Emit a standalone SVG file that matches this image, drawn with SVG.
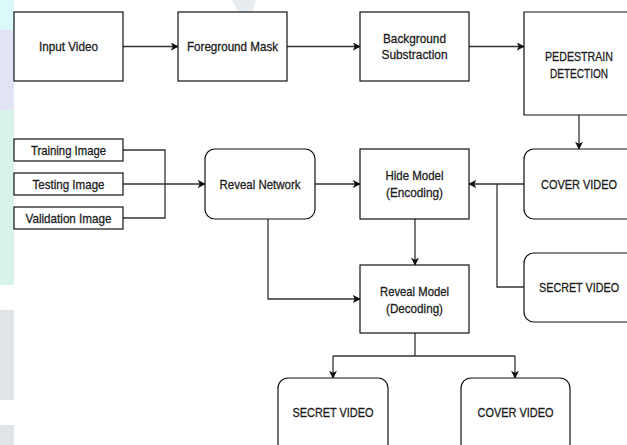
<svg xmlns="http://www.w3.org/2000/svg" width="627" height="445" viewBox="0 0 627 445">
<defs>
<style>
.box{fill:#fff;stroke:#111;stroke-width:1.2}
.t{font-family:"Liberation Sans Narrow","Liberation Sans",Arial,sans-serif;font-size:13.5px;fill:#1c1c1c;stroke:#1c1c1c;stroke-width:0.3;text-anchor:middle}
.c{fill:none;stroke:#333;stroke-width:1.3}
</style>
<marker id="ah" viewBox="0 0 10 10" refX="9" refY="5" markerWidth="8" markerHeight="8" markerUnits="userSpaceOnUse" orient="auto">
<path d="M0,0 L10,5 L0,10 L2.5,5 Z" fill="#111"/>
</marker>
</defs>
<rect width="627" height="445" fill="#fff"/>
<g id="watermark">
<rect x="0" y="0" width="14" height="40" fill="#dcf9fa"/>
<rect x="0" y="30" width="14" height="80" fill="#e0e4f5"/>
<rect x="0" y="110" width="14" height="175" fill="#d8f3e9"/>
<rect x="0" y="310" width="14" height="90" fill="#dee4e8"/>
<rect x="0" y="425" width="14" height="20" fill="#dee4e8"/>
<path d="M232,0 L256,0 L252,12 L238,12 Z" fill="#e6ecf0"/>
</g>
<g id="connectors">
<path class="c" d="M123,46.5 H178" marker-end="url(#ah)"/>
<path class="c" d="M287,46.5 H360" marker-end="url(#ah)"/>
<path class="c" d="M469,46.5 H524" marker-end="url(#ah)"/>
<path class="c" d="M579,115 V149" marker-end="url(#ah)"/>
<path class="c" d="M123,150 H165 V218 H123"/>
<path class="c" d="M123,184 H205" marker-end="url(#ah)"/>
<path class="c" d="M315,184 H360" marker-end="url(#ah)"/>
<path class="c" d="M524,184 H469" marker-end="url(#ah)"/>
<path class="c" d="M497,184 V287 H524"/>
<path class="c" d="M415,219 V265" marker-end="url(#ah)"/>
<path class="c" d="M268,219 V299 H360" marker-end="url(#ah)"/>
<path class="c" d="M415,333 V356"/>
<path class="c" d="M333,356 H515"/>
<path class="c" d="M333,356 V378" marker-end="url(#ah)"/>
<path class="c" d="M515,356 V378" marker-end="url(#ah)"/>
</g>
<g id="input-video"><rect class="box" x="14" y="12" width="109" height="69"/><text class="t" x="68.5" y="51" textLength="59" lengthAdjust="spacingAndGlyphs">Input Video</text></g>
<g id="foreground-mask"><rect class="box" x="178" y="12" width="109" height="69"/><text class="t" x="232.5" y="51" textLength="91" lengthAdjust="spacingAndGlyphs">Foreground Mask</text></g>
<g id="background-substraction"><rect class="box" x="360" y="12" width="109" height="69"/><text class="t" x="414.5" y="43" textLength="63" lengthAdjust="spacingAndGlyphs">Background</text><text class="t" x="414.5" y="59" textLength="66" lengthAdjust="spacingAndGlyphs">Substraction</text></g>
<g id="pedestrain-detection"><path class="box" d="M627,12 H524 V115 H627"/><text class="t" transform="translate(579,61) scale(0.8,1)" x="0" y="0" textLength="85" lengthAdjust="spacingAndGlyphs">PEDESTRAIN</text><text class="t" transform="translate(579,78) scale(0.8,1)" x="0" y="0" textLength="72.5" lengthAdjust="spacingAndGlyphs">DETECTION</text></g>
<g id="training-image"><rect class="box" x="14" y="139" width="109" height="22"/><text class="t" x="68.5" y="154.5" textLength="75" lengthAdjust="spacingAndGlyphs">Training Image</text></g>
<g id="testing-image"><rect class="box" x="14" y="173" width="109" height="22"/><text class="t" x="68.5" y="188.5" textLength="72" lengthAdjust="spacingAndGlyphs">Testing Image</text></g>
<g id="validation-image"><rect class="box" x="14" y="207" width="109" height="22"/><text class="t" x="68.5" y="222.5" textLength="86" lengthAdjust="spacingAndGlyphs">Validation Image</text></g>
<g id="reveal-network"><rect class="box" x="205" y="149" width="110" height="70" rx="10"/><text class="t" x="260" y="188.5" textLength="81" lengthAdjust="spacingAndGlyphs">Reveal Network</text></g>
<g id="hide-model"><rect class="box" x="360" y="149" width="109" height="70"/><text class="t" x="414.5" y="180" textLength="58" lengthAdjust="spacingAndGlyphs">Hide Model</text><text class="t" x="414.5" y="197" textLength="57" lengthAdjust="spacingAndGlyphs">(Encoding)</text></g>
<g id="cover-video-in"><path class="box" d="M627,149 H534 A10,10 0 0 0 524,159 V209 A10,10 0 0 0 534,219 H627"/><text class="t" transform="translate(579,188.5) scale(0.8,1)" x="0" y="0" textLength="95" lengthAdjust="spacingAndGlyphs">COVER VIDEO</text></g>
<g id="secret-video-in"><path class="box" d="M627,253 H534 A10,10 0 0 0 524,263 V312 A10,10 0 0 0 534,322 H627"/><text class="t" transform="translate(579,291.5) scale(0.8,1)" x="0" y="0" textLength="100" lengthAdjust="spacingAndGlyphs">SECRET VIDEO</text></g>
<g id="reveal-model"><rect class="box" x="360" y="265" width="109" height="68"/><text class="t" x="414.5" y="296" textLength="69" lengthAdjust="spacingAndGlyphs">Reveal Model</text><text class="t" x="414.5" y="313" textLength="57" lengthAdjust="spacingAndGlyphs">(Decoding)</text></g>
<g id="secret-video-out"><path class="box" d="M278,445 V388 A10,10 0 0 1 288,378 H378 A10,10 0 0 1 388,388 V445"/><text class="t" x="333" y="417" textLength="81" lengthAdjust="spacingAndGlyphs">SECRET VIDEO</text></g>
<g id="cover-video-out"><path class="box" d="M461,445 V388 A10,10 0 0 1 471,378 H560 A10,10 0 0 1 570,388 V445"/><text class="t" x="515.5" y="417" textLength="76" lengthAdjust="spacingAndGlyphs">COVER VIDEO</text></g>
</svg>
